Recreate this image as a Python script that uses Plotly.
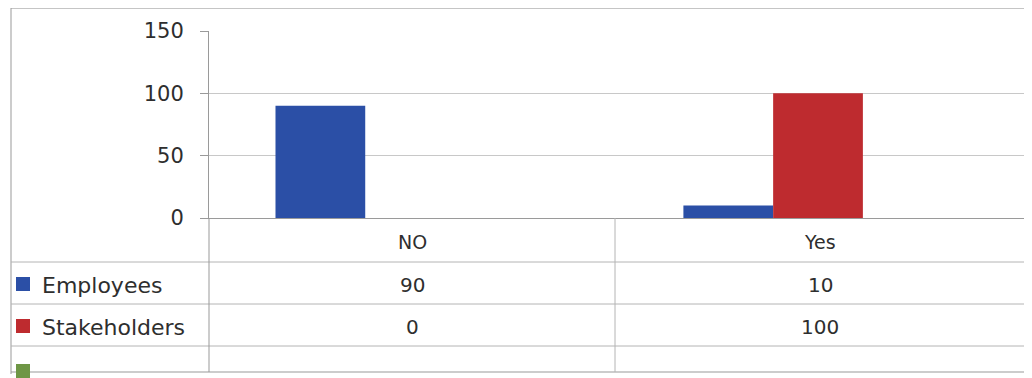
import plotly.graph_objects as go

categories = ["NO", "Yes"]
series_names = ["Employees", "Stakeholders"]
employees = [90, 10]
stakeholders = [0, 100]
series_values = [employees, stakeholders]
series_colors = ["#2B4FA6", "#BE2B2F"]
extra_key_color = "#6E9645"
y_ticks = [0, 50, 100, 150]

OFF = 8  # page body margin offset
W, H = 1032 - OFF, 378 - OFF
L, R, T, B = 209, 1024, 31, 218  # plot area in screen pixels


def px(x):
    return (x - L) / (R - L)


def py(y):
    return (B - y) / (B - T)


fig = go.Figure()
for name, vals, col in zip(series_names, series_values, series_colors):
    fig.add_trace(go.Bar(x=categories, y=vals, name=name, marker_color=col,
                         marker_line_width=0, showlegend=False))

font_family = "'DejaVu Sans', Verdana, sans-serif"
text_color = "#2E2E2E"
line_col = "#B4B4B4"

shapes = []


def hline(y, x0, x1, color=line_col):
    shapes.append(dict(type="line", xref="paper", yref="paper",
                       x0=px(x0), x1=px(x1), y0=py(y), y1=py(y),
                       line=dict(color=color, width=1)))


def vline(x, y0, y1, color=line_col):
    shapes.append(dict(type="line", xref="paper", yref="paper",
                       x0=px(x), x1=px(x), y0=py(y0), y1=py(y1),
                       line=dict(color=color, width=1)))


# outer border
hline(8, 11, 1032, "#8C8C8C")
vline(11, 8, 374, "#999999")
hline(372, 11, 1032, "#999999")
# table grid
for yy in [262, 304, 346]:
    hline(yy, 11, 1025)
vline(209, 218, 372, "#999999")
vline(615, 218, 372)
vline(1025, 218, 372)

annotations = []
col_centers = [412, 820]
for cat, cx in zip(categories, col_centers):
    annotations.append(dict(text=cat, x=px(cx), y=py(242), xref="paper", yref="paper",
                            showarrow=False, xanchor="center", yanchor="middle",
                            font=dict(size=19, color=text_color, family=font_family)))

row_centers = [285, 327]
for name, vals, col, ry in zip(series_names, series_values, series_colors, row_centers):
    shapes.append(dict(type="rect", xref="paper", yref="paper",
                       x0=px(16), x1=px(30), y0=py(ry - 8), y1=py(ry + 6),
                       fillcolor=col, line=dict(width=0)))
    annotations.append(dict(text=name, x=px(40), y=py(ry), xref="paper", yref="paper",
                            showarrow=False, xanchor="left", yanchor="middle",
                            font=dict(size=22, color=text_color, family=font_family)))
    for v, cx in zip(vals, col_centers):
        annotations.append(dict(text=str(v), x=px(cx), y=py(ry), xref="paper", yref="paper",
                                showarrow=False, xanchor="center", yanchor="middle",
                                font=dict(size=20, color=text_color, family=font_family)))

shapes.append(dict(type="rect", xref="paper", yref="paper",
                   x0=px(16), x1=px(30), y0=py(364), y1=py(378),
                   fillcolor=extra_key_color, line=dict(width=0)))

fig.update_layout(
    width=W, height=H,
    margin=dict(l=L - OFF, r=1032 - R, t=T - OFF, b=378 - B, pad=0),
    paper_bgcolor="white", plot_bgcolor="white",
    barmode="group", bargap=0.56, bargroupgap=0,
    showlegend=False,
    shapes=shapes, annotations=annotations,
    xaxis=dict(range=[-0.383, 1.615], showticklabels=False, ticks="",
               showgrid=False, showline=True, linecolor="#9A9A9A", linewidth=1,
               zeroline=False),
    yaxis=dict(range=[0, 150], tickvals=y_ticks, ticks="outside", ticklen=8,
               tickcolor="#9A9A9A", showline=True, linecolor="#9A9A9A",
               showgrid=True, gridcolor="#C8C8C8", gridwidth=1, zeroline=False,
               ticklabelstandoff=12,
               tickfont=dict(size=21, color=text_color, family=font_family)),
)

fig.write_html("out.html")
